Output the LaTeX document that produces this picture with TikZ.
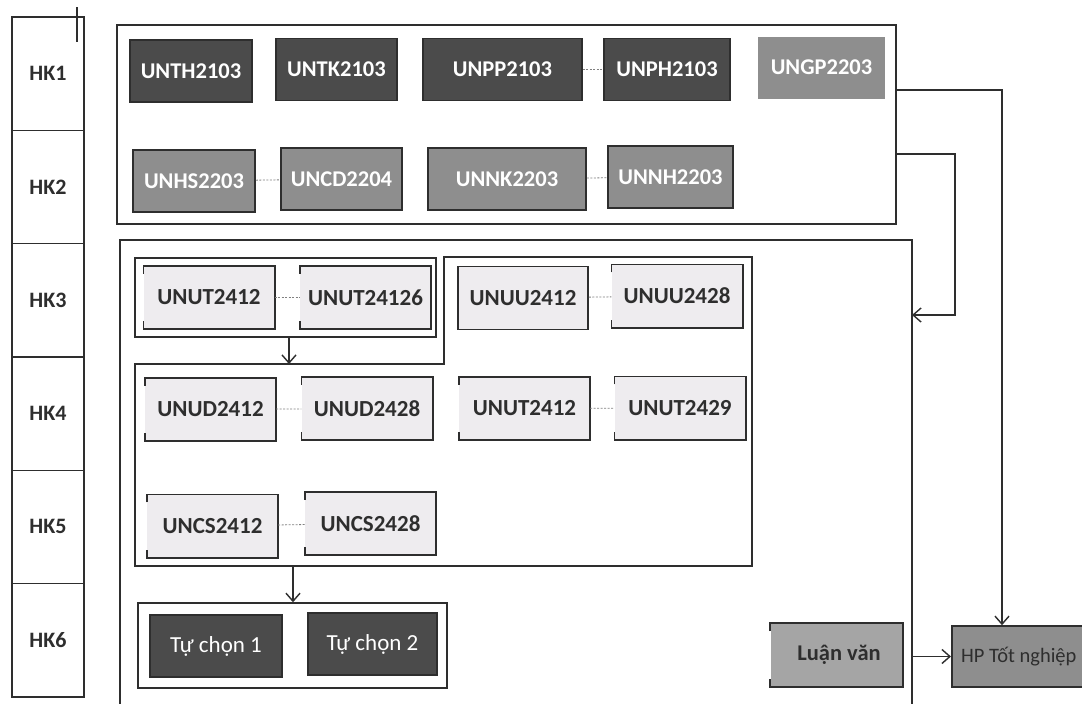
\documentclass[tikz,border=0pt]{standalone}
\usepackage{fontspec}
\setmainfont{Carlito}
\usetikzlibrary{arrows.meta,calc}
\definecolor{darkbox}{HTML}{4B4B4B}
\definecolor{midbox}{HTML}{8E8E8E}
\definecolor{litebox}{HTML}{EEECEF}
\definecolor{inkc}{HTML}{2E2E2E}
\tikzset{
  course/.style={minimum height=62, inner sep=0pt, font=\fontsize{22.5}{26}\selectfont\bfseries, draw=inkc, line width=1.6pt},
  darkc/.style={course, fill=darkbox, text=white},
  midc/.style={course, fill=midbox, text=white},
  litec/.style={minimum height=63, minimum width=131, inner sep=0pt, font=\fontsize{23}{26}\selectfont\bfseries, fill=litebox, text=inkc},
  fulllite/.style={litec, draw=inkc, line width=1.6pt},
  hkcell/.style={draw=inkc, line width=1.4pt, minimum width=72, minimum height=113.3, inner sep=0pt, font=\fontsize{22}{26}\selectfont\bfseries, text=inkc},
  grp/.style={draw=inkc, line width=1.5pt, inner sep=0pt},
  pairline/.style={gray, dashed, dash pattern=on 2pt off 1.5pt, line width=0.8pt},
  arr/.style={draw=inkc, line width=1.4pt, -{Straight Barb[length=8pt, width=14pt, line width=1.4pt]}},
  conn/.style={draw=inkc, line width=1.4pt}
}
\newcommand{\bracketborder}[1]{%
  \draw[inkc, line width=1.6pt] ($(#1.north west)+(0,8)$) |- (#1.north east) |- (#1.south west) -- ++(0,-8);}
\begin{document}
\begin{tikzpicture}[x=1pt,y=-1pt]
\useasboundingbox[fill=white] (0,0) rectangle (1082,704);

% semester column
\foreach \i in {1,...,6}{
  \node[hkcell] (hk\i) at (48, {17+113.3*(\i-0.5)}) {HK\i};
}
\draw[inkc, line width=1.2pt] (77,7) -- (77,42);

% top group
\node[grp, minimum width=779, minimum height=199] (topbox) at (506.5,124.5) {};
\node[darkc, minimum width=122] (unth) at (191,71) {UNTH2103};
\node[darkc, minimum width=121] (untk) at (336.5,69.5) {UNTK2103};
\node[darkc, minimum width=159] (unpp) at (502.5,69.5) {UNPP2103};
\node[darkc, minimum width=126] (unph) at (667,69.5) {UNPH2103};
\node[midc, minimum width=127, draw=none] (ungp) at (821.5,67.5) {UNGP2203};
\node[midc, minimum width=122] (unhs) at (194,181) {UNHS2203};
\node[midc, minimum width=121] (uncd) at (341.5,179) {UNCD2204};
\node[midc, minimum width=158] (unnk) at (507,179) {UNNK2203};
\node[midc, minimum width=125] (unnh) at (670.5,177) {UNNH2203};
\draw[pairline] (unpp) -- (unph);
\draw[pairline] (unhs) -- (uncd);
\draw[pairline] (unnk) -- (unnh);

% big lower box (open at the bottom)
\coordinate (bbl) at (120,712);
\coordinate (bbr) at (912,712);
\draw[grp] (bbl) -- (120,240) -- (912,240) -- (bbr);

% group A
\node[grp, minimum width=301, minimum height=79] (grpA) at (285.5,297.5) {};
% group B polygon
\draw[grp] (135,364) -- (444,364) -- (444,257) -- (752,257) -- (752,566) -- (135,566) -- cycle;
\coordinate (grpBtop) at (289,364);
\coordinate (grpBbot) at (293,566);
% group C
\node[grp, minimum width=309, minimum height=85] (grpC) at (292.5,645.5) {};

% light courses
\node[litec] (ut1) at (209,297.5) {UNUT2412};
\node[litec] (ut2) at (365.5,297.5) {UNUT24126};
\node[fulllite, minimum width=130] (uu1) at (523,298) {UNUU2412};
\node[litec] (uu2) at (677,296) {UNUU2428};
\node[litec] (ud1) at (210.5,409.5) {UNUD2412};
\node[litec] (ud2) at (367,408.5) {UNUD2428};
\node[litec] (ut3) at (524.5,408.5) {UNUT2412};
\node[litec] (ut4) at (680,408) {UNUT2429};
\node[litec] (cs1) at (212.5,526) {UNCS2412};
\node[litec] (cs2) at (370.5,523.5) {UNCS2428};
\foreach \n in {ut1,ut2,uu2,ud1,ud2,ut3,ut4,cs1,cs2}{\bracketborder{\n}}
\draw[pairline] (ut1) -- (ut2);
\draw[pairline] (uu1) -- (uu2);
\draw[pairline] (ud1) -- (ud2);
\draw[pairline] (ut3) -- (ut4);
\draw[pairline] (cs1) -- (cs2);

% electives
\node[darkc, minimum width=132, font=\fontsize{23}{26}\selectfont] (tc1) at (216,646) {Tự chọn 1};
\node[darkc, minimum width=129, font=\fontsize{23}{26}\selectfont] (tc2) at (372.5,644) {Tự chọn 2};

% thesis and graduation
\node[midc, fill=midbox!80!white, text=inkc, draw=none, minimum width=131] (lv) at (836.5,655) {\hspace*{5pt}Luận văn};
\bracketborder{lv}
\node[midc, text=inkc, anchor=west, minimum width=134, minimum height=61, font=\fontsize{20.5}{24}\selectfont] (hp) at (951,656.5) {HP Tốt nghiệp};

% connectors
\draw[arr] (grpA.south -| grpBtop) -- (grpBtop);
\draw[arr] (grpBbot) -- (grpC.north -| grpBbot);
\draw[arr] (topbox.east |- 0,90) -| (hp.north west -| 1002,0);
\draw[arr] (topbox.east |- 0,154) -- (955,154) |- (bbr |- 0,315);
\draw[arr] (bbr |- hp.west) -- (hp.west);
\end{tikzpicture}
\end{document}
